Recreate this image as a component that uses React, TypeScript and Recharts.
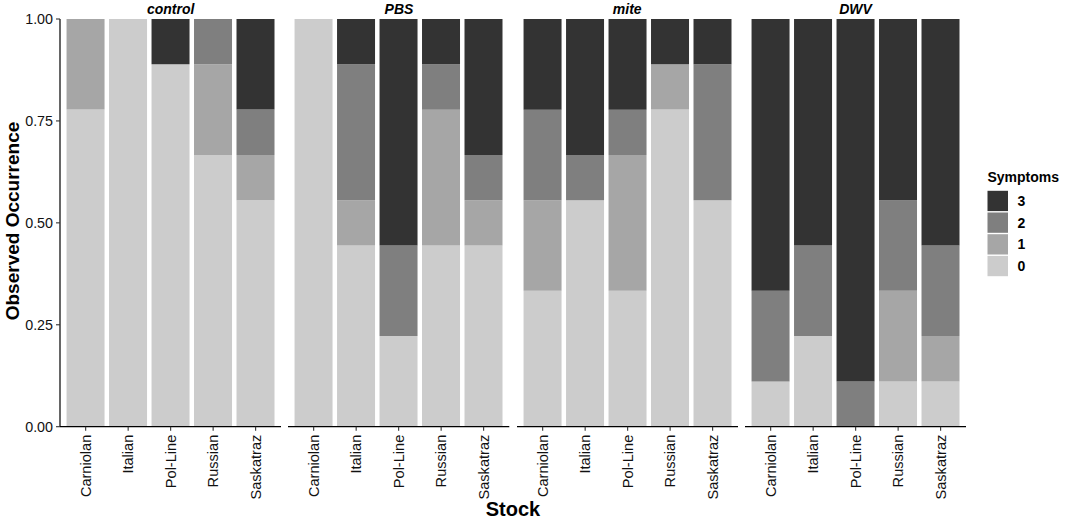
import React from 'react'
import { BarChart, Bar, XAxis, YAxis } from 'recharts'

const stocks = ['Carniolan', 'Italian', 'Pol-Line', 'Russian', 'Saskatraz']
const treatments = ['control', 'PBS', 'mite', 'DWV']

// share of bees per symptom score, one list per treatment (order = stocks)
const symptom0 = [
  [0.7778, 1.0, 0.8889, 0.6667, 0.5556],
  [1.0, 0.4444, 0.2222, 0.4444, 0.4444],
  [0.3333, 0.5556, 0.3333, 0.7778, 0.5556],
  [0.1111, 0.2222, 0.0, 0.1111, 0.1111],
]
const symptom1 = [
  [0.2222, 0.0, 0.0, 0.2222, 0.1111],
  [0.0, 0.1111, 0.0, 0.3333, 0.1111],
  [0.2222, 0.0, 0.3333, 0.1111, 0.0],
  [0.0, 0.0, 0.0, 0.2222, 0.1111],
]
const symptom2 = [
  [0.0, 0.0, 0.0, 0.1111, 0.1111],
  [0.0, 0.3333, 0.2222, 0.1111, 0.1111],
  [0.2222, 0.1111, 0.1111, 0.0, 0.3333],
  [0.2222, 0.2222, 0.1111, 0.2222, 0.2222],
]
const symptom3 = [
  [0.0, 0.0, 0.1111, 0.0, 0.2222],
  [0.0, 0.1111, 0.5556, 0.1111, 0.3333],
  [0.2222, 0.3333, 0.2222, 0.1111, 0.1111],
  [0.6667, 0.5556, 0.8889, 0.4444, 0.5556],
]

const symptomLabels = ['0', '1', '2', '3']
const symptomColors = ['#cccccc', '#a6a6a6', '#7f7f7f', '#333333']
const yTicks = [0, 0.25, 0.5, 0.75, 1]

const FONT = '"Liberation Sans", Arial, sans-serif'
const PANEL_W = 221.3
const PANEL_X = [60, 288.3, 516.6, 744.9]
const TOP = 19
const X_AXIS_H = 93.3
const H = 520

function facetData(i: number) {
  return stocks.map((s, j) => ({
    stock: s,
    s0: symptom0[i][j],
    s1: symptom1[i][j],
    s2: symptom2[i][j],
    s3: symptom3[i][j],
  }))
}

const StockTick = (props: any) => {
  const { x, y, payload } = props
  return (
    <text
      x={x}
      y={y}
      transform={`rotate(-90, ${x}, ${y})`}
      textAnchor="end"
      dy="0.35em"
      fontSize={14.6}
      fontFamily={FONT}
      fill="#111"
    >
      {payload.value}
    </text>
  )
}

function Facet({ i }: { i: number }) {
  const first = i === 0
  const width = first ? PANEL_X[0] + PANEL_W : PANEL_W
  const left = first ? 0 : PANEL_X[i]
  return (
    <div style={{ position: 'absolute', left, top: 0, width, height: H }}>
      <BarChart
        width={width}
        height={H}
        data={facetData(i)}
        margin={{ top: TOP, right: 0, bottom: 0, left: 0 }}
        barCategoryGap="5%"
      >
        <XAxis
          dataKey="stock"
          interval={0}
          padding={{ left: PANEL_W * 0.02, right: PANEL_W * 0.02 }}
          height={X_AXIS_H}
          tickSize={4}
          tickMargin={4}
          axisLine={{ stroke: '#000', strokeWidth: 1.2 }}
          tickLine={{ stroke: '#333', strokeWidth: 1.1 }}
          tick={<StockTick />}
        />
        <YAxis
          hide={!first}
          width={PANEL_X[0]}
          type="number"
          domain={[0, 1]}
          allowDataOverflow
          ticks={yTicks}
          tickFormatter={(v: number) => v.toFixed(2)}
          tickSize={4}
          tickMargin={3}
          axisLine={{ stroke: '#000', strokeWidth: 1.2 }}
          tickLine={{ stroke: '#333', strokeWidth: 1.1 }}
          tick={{ fontSize: 14.3, fontFamily: FONT, fill: '#111' }}
        />
        {symptomLabels.map((lab, k) => (
          <Bar
            key={lab}
            dataKey={'s' + lab}
            name={lab}
            stackId="a"
            fill={symptomColors[k]}
            isAnimationActive={false}
          />
        ))}
      </BarChart>
    </div>
  )
}

export default function App() {
  const legendOrder = [3, 2, 1, 0]
  return (
    <div style={{ position: 'absolute', left: 0, top: 0, width: 1065, height: H, background: '#fff', overflow: 'hidden' }}>
      {treatments.map((t, i) => (
        <Facet key={t} i={i} />
      ))}
      <svg
        width={1065}
        height={H}
        style={{ position: 'absolute', left: 0, top: 0, pointerEvents: 'none' }}
        fontFamily={FONT}
      >
        {treatments.map((t, i) => (
          <text
            key={t}
            x={PANEL_X[i] + PANEL_W / 2}
            y={13.5}
            textAnchor="middle"
            fontSize={14}
            fontWeight="bold"
            fontStyle="italic"
            fill="#000"
          >
            {t}
          </text>
        ))}
        <text
          transform={`translate(19, 221) rotate(-90)`}
          textAnchor="middle"
          fontSize={19}
          fontWeight="bold"
          fill="#000"
        >
          Observed Occurrence
        </text>
        <text x={513} y={516} textAnchor="middle" fontSize={20} fontWeight="bold" fill="#000">
          Stock
        </text>
        <text x={987.5} y={182} fontSize={14} fontWeight="bold" fill="#000">
          Symptoms
        </text>
        {legendOrder.map((k, r) => (
          <g key={k}>
            <rect x={987.5} y={190.8 + r * 21.7} width={20.5} height={20.3} fill={symptomColors[k]} />
            <text x={1017.5} y={190.8 + r * 21.7 + 10.2} dy="0.35em" fontSize={14} fontWeight="bold" fill="#000">
              {symptomLabels[k]}
            </text>
          </g>
        ))}
      </svg>
    </div>
  )
}
